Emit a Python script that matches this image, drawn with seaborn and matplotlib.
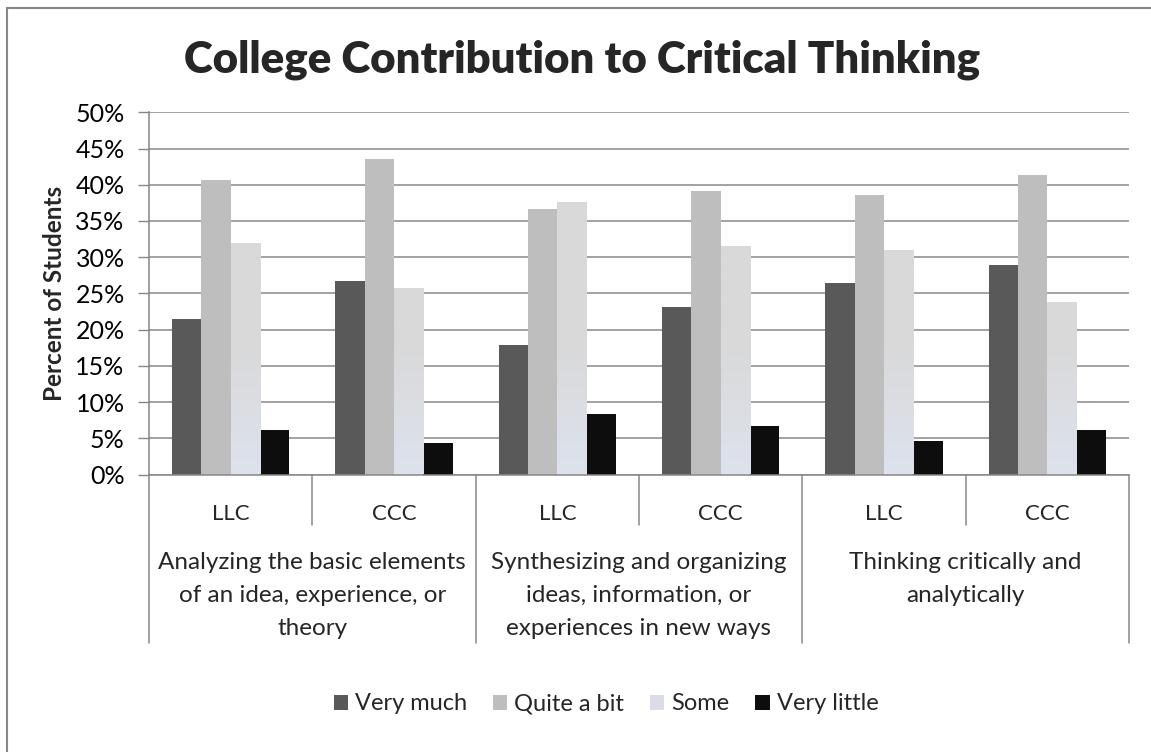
import numpy as np
import pandas as pd
import matplotlib
matplotlib.use("Agg")
import matplotlib.pyplot as plt
import matplotlib.transforms as mtransforms
from matplotlib.colors import to_rgb
from matplotlib.patches import Patch, Rectangle
import seaborn as sns

## Chart data (percent of students)
groups = [
    "Analyzing the basic elements\nof an idea, experience, or\ntheory",
    "Synthesizing and organizing\nideas, information, or\nexperiences in new ways",
    "Thinking critically and\nanalytically",
]
colleges = ["LLC", "CCC"]
responses = ["Very much", "Quite a bit", "Some", "Very little"]

very_much = [21.5, 26.7, 17.9, 23.1, 26.5, 28.9]
quite_a_bit = [40.7, 43.5, 36.6, 39.1, 38.6, 41.3]
some = [32.0, 25.7, 37.6, 31.5, 31.0, 23.8]
very_little = [6.2, 4.3, 8.4, 6.7, 4.6, 6.1]

colors = ["#595959", "#bebebe", "#d9d9d9", "#0d0d0d"]
grid_col = "#878787"

# long table for seaborn
slots = [f"{g}|{c}" for g in groups for c in colleges]
rows = []
for resp, vals in zip(responses, [very_much, quite_a_bit, some, very_little]):
    for slot, v in zip(slots, vals):
        rows.append({"slot": slot, "response": resp, "pct": v})
df = pd.DataFrame(rows)

sns.set_theme(style="white")
plt.rcParams["font.family"] = ["Lato", "DejaVu Sans"]

W, H = 1151, 752
fig = plt.figure(figsize=(W / 100, H / 100), dpi=100)
ax_l, ax_r, ax_t, ax_b = 149, 1129, 112.3, 474.5
ax = fig.add_axes([ax_l / W, 1 - ax_b / H, (ax_r - ax_l) / W, (ax_b - ax_t) / H])

sns.barplot(data=df, x="slot", y="pct", hue="response", order=slots,
            hue_order=responses, palette=colors, width=0.72, saturation=1,
            linewidth=0, legend=False, ax=ax)

# gradient fill for the "Some" bars (grey on top, bluish near the bottom)
top_c = np.array(to_rgb("#d9d9d9"))
bot_c = np.array(to_rgb("#dde2ed"))
yy = np.linspace(0, 50, 200)
t = np.clip(yy / 18.0, 0, 1)[:, None]
grad = (bot_c * (1 - t) + top_c * t)[:, None, :]
for bar in ax.containers[2]:
    x0 = bar.get_x()
    w = bar.get_width()
    img = ax.imshow(grad, extent=[x0, x0 + w, 0, 50], origin="lower",
                    aspect="auto", zorder=bar.get_zorder() + 0.1)
    img.set_clip_path(bar)

ax.set_xlim(-0.5, len(slots) - 0.5)
ax.set_ylim(0, 50)
ax.set_yticks(np.arange(0, 51, 5))
ax.set_yticklabels([f"{v}%" for v in range(0, 51, 5)])
ax.set_xticks([])
ax.set_xlabel("")
ax.set_ylabel("")
ax.tick_params(axis="y", length=8, width=1, color=grid_col, pad=9.5,
               labelsize=18, labelcolor="black", left=True)
ax.yaxis.grid(True, color=grid_col, linewidth=1.1)
ax.set_axisbelow(True)
for s in ["top", "right"]:
    ax.spines[s].set_visible(False)
for s in ["left", "bottom"]:
    ax.spines[s].set_color(grid_col)
    ax.spines[s].set_linewidth(1.1)

# multi-level category axis
trans = mtransforms.blended_transform_factory(ax.transData, ax.transAxes)
ah = ax_b - ax_t
def ypix(p):
    return (ax_b - p) / ah

for xs in [0.5, 2.5, 4.5]:
    ax.plot([xs, xs], [0, ypix(525)], color=grid_col, lw=1.1,
            transform=trans, clip_on=False)
for xs in [-0.5, 1.5, 3.5, 5.5]:
    ax.plot([xs, xs], [0, ypix(642.7)], color=grid_col, lw=1.1,
            transform=trans, clip_on=False)

for i, slot in enumerate(slots):
    ax.text(i, ypix(520), slot.split("|")[1], ha="center", va="baseline",
            fontsize=16, transform=trans)
for gi, g in enumerate(groups):
    ax.text(gi * 2 + 0.5, ypix(552), g, ha="center", va="top",
            fontsize=17.5, linespacing=1.72, transform=trans)

# title, axis title, legend
fig.text(582 / W, 1 - 72.7 / H, "College Contribution to Critical Thinking",
         ha="center", va="baseline", fontsize=31.5, fontweight="heavy")
fig.text(55 / W, 1 - 293 / H, "Percent of Students", rotation=90,
         ha="center", va="center", fontsize=17.5, fontweight="bold")

handles = [Patch(facecolor=c, edgecolor="none") for c in ["#595959", "#bebebe", "#dadde3", "#0d0d0d"]]
fig.legend(handles, responses, loc="center", bbox_to_anchor=(606 / W, 1 - 704 / H),
           ncol=4, frameon=False, fontsize=17, handlelength=0.6, handleheight=0.6,
           handletextpad=0.3, columnspacing=1.1)

# chart border (cut at right/bottom like the screenshot)
fig.patches.append(Rectangle((6.5 / W, -0.05), 1.2, 1 - 8 / H + 0.05,
                             transform=fig.transFigure, fill=False,
                             edgecolor=grid_col, lw=1.5))

fig.savefig("out.png", dpi=100, facecolor="white")
